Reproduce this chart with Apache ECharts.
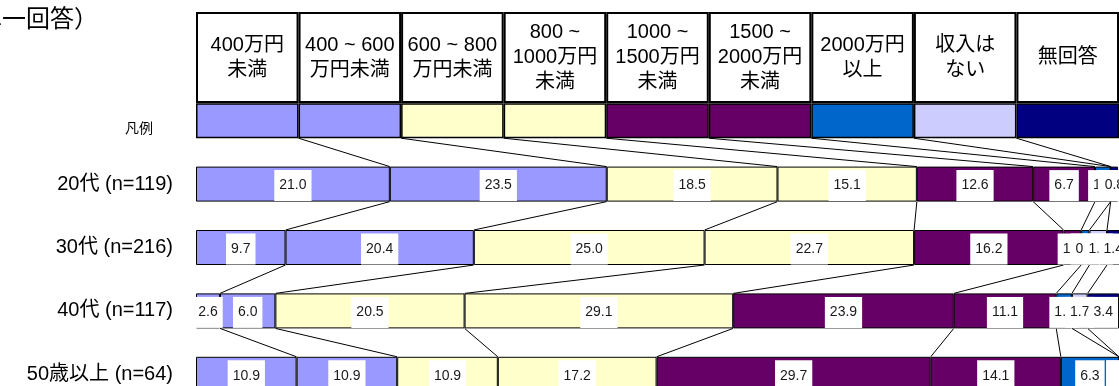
<!DOCTYPE html>
<html>
<head>
<meta charset="utf-8">
<script src="https://cdn.jsdelivr.net/npm/echarts@6/dist/echarts.min.js"></script>
<style>
  html, body { margin: 0; padding: 0; background: #fff; overflow: hidden; }
  #frame { width: 1119px; height: 386px; overflow: hidden; }
  #chart { width: 1119px; height: 410px; }
</style>
</head>
<body>
<div id="frame"><div id="chart"></div></div>
<script>
// Income bands (header cells) and their fill colours
const categories = ['400万円\n未満', '400 ~ 600\n万円未満', '600 ~ 800\n万円未満', '800 ~\n1000万円\n未満',
  '1000 ~\n1500万円\n未満', '1500 ~\n2000万円\n未満', '2000万円\n以上', '収入は\nない', '無回答'];
const colors = ['#9999FF', '#9999FF', '#FFFFCC', '#FFFFCC', '#660066', '#660066', '#0066CC', '#CCCCFF', '#000080'];

// Row labels: legend row followed by the age groups
const legendLabel = '凡例';
const groupLabels = ['20代 (n=119)', '30代 (n=216)', '40代 (n=117)', '50歳以上 (n=64)'];

// Share (%) of each income band per age group
const age20 = [21.0, 23.5, 18.5, 15.1, 12.6, 6.7, 1.7, 0.0, 0.8];
const age30 = [9.7, 20.4, 25.0, 22.7, 16.2, 1.9, 0.9, 1.9, 1.4];
const age40 = [2.6, 6.0, 20.5, 29.1, 23.9, 11.1, 1.7, 1.7, 3.4];
const age50 = [10.9, 10.9, 10.9, 17.2, 29.7, 14.1, 6.3, 0.0, 0.0];

const titleText = '（単一回答）';

const FONT = '"Liberation Sans", Arial, "Noto Sans CJK JP", sans-serif';
const BAR_H = 35;

// Legend row: equal-width swatches spanning the full 100%
const legendRow = categories.map(() => 100 / categories.length);
const rows = [legendRow, age20, age30, age40, age50];
const rowLabels = [legendLabel].concat(groupLabels);

function cumulative(arr, k) {
  let s = 0;
  for (let i = 0; i < k; i++) s += arr[i];
  return s;
}

// Connector lines between the same band boundary of consecutive rows
const connectors = [];
for (let r = 0; r < rows.length - 1; r++) {
  for (let k = 1; k < categories.length; k++) {
    connectors.push([cumulative(rows[r], k), r, cumulative(rows[r + 1], k), r + 1]);
  }
}

const series = [];

// Header table cells
categories.forEach((name, i) => {
  series.push({
    type: 'bar', name: name, xAxisIndex: 0, yAxisIndex: 0, stack: 'head',
    barWidth: '100%', silent: true,
    data: [1],
    itemStyle: { color: '#fff', borderColor: '#000', borderWidth: 2 },
    label: {
      show: true, position: 'inside', formatter: name,
      fontFamily: FONT, fontSize: 20, lineHeight: 25, color: '#000'
    }
  });
});

// Stacked bars: legend swatches + one row per age group
categories.forEach((name, i) => {
  const data = rows.map((row, r) => {
    if (r === 0) {
      return { value: row[i], itemStyle: { borderWidth: 1.5 }, label: { show: false } };
    }
    return row[i];
  });
  series.push({
    type: 'bar', name: name, xAxisIndex: 1, yAxisIndex: 1, stack: 'data',
    barWidth: BAR_H, silent: true,
    data: data,
    itemStyle: { color: colors[i], borderColor: '#000', borderWidth: 1 },
    label: {
      show: true, position: 'inside',
      formatter: p => (p.value > 0 ? p.value.toFixed(1) : '    '),
      backgroundColor: '#fff', padding: [8, 5, 7, 5], lineHeight: 16,
      fontFamily: FONT, fontSize: 14, color: '#1a1a1a', offset: [0, 1.5]
    }
  });
});

// Series lines joining the boundaries of adjacent rows
series.push({
  type: 'custom', xAxisIndex: 1, yAxisIndex: 1, silent: true, z: 1,
  encode: { x: [0, 2], y: [1, 3] },
  data: connectors,
  renderItem: function (params, api) {
    const p1 = api.coord([api.value(0), api.value(1)]);
    const p2 = api.coord([api.value(2), api.value(3)]);
    return {
      type: 'line',
      shape: { x1: p1[0], y1: p1[1] + BAR_H / 2, x2: p2[0], y2: p2[1] - BAR_H / 2 },
      style: { stroke: '#000', lineWidth: 1 }
    };
  }
});

const chart = echarts.init(document.getElementById('chart'), null, { renderer: 'canvas' });
chart.setOption({
  animation: false,
  backgroundColor: '#fff',
  graphic: [{
    type: 'text', x: -46, y: 20, silent: true,
    style: {
      text: titleText, fontFamily: FONT, fontSize: 24, fill: '#000',
      textAlign: 'left', textVerticalAlign: 'middle'
    }
  }],
  grid: [
    { left: 196, top: 12, width: 923, height: 91 },
    { left: 196, top: 89, width: 923, height: 317 }
  ],
  xAxis: [
    { type: 'value', gridIndex: 0, min: 0, max: categories.length, show: false },
    { type: 'value', gridIndex: 1, min: 0, max: 100, show: false }
  ],
  yAxis: [
    { type: 'category', gridIndex: 0, data: ['header'], show: false },
    {
      type: 'category', gridIndex: 1, inverse: true, data: rowLabels,
      axisLine: { show: false }, axisTick: { show: false }, splitLine: { show: false },
      axisLabel: {
        margin: 23, fontFamily: FONT, fontSize: 20, color: '#000',
        formatter: (v, idx) => (idx === 0 ? '{s|' + v + '}' : v),
        rich: { s: { fontFamily: FONT, fontSize: 14, color: '#000', padding: [16, 20, 0, 0] } }
      }
    }
  ],
  series: series
});
</script>
</body>
</html>
